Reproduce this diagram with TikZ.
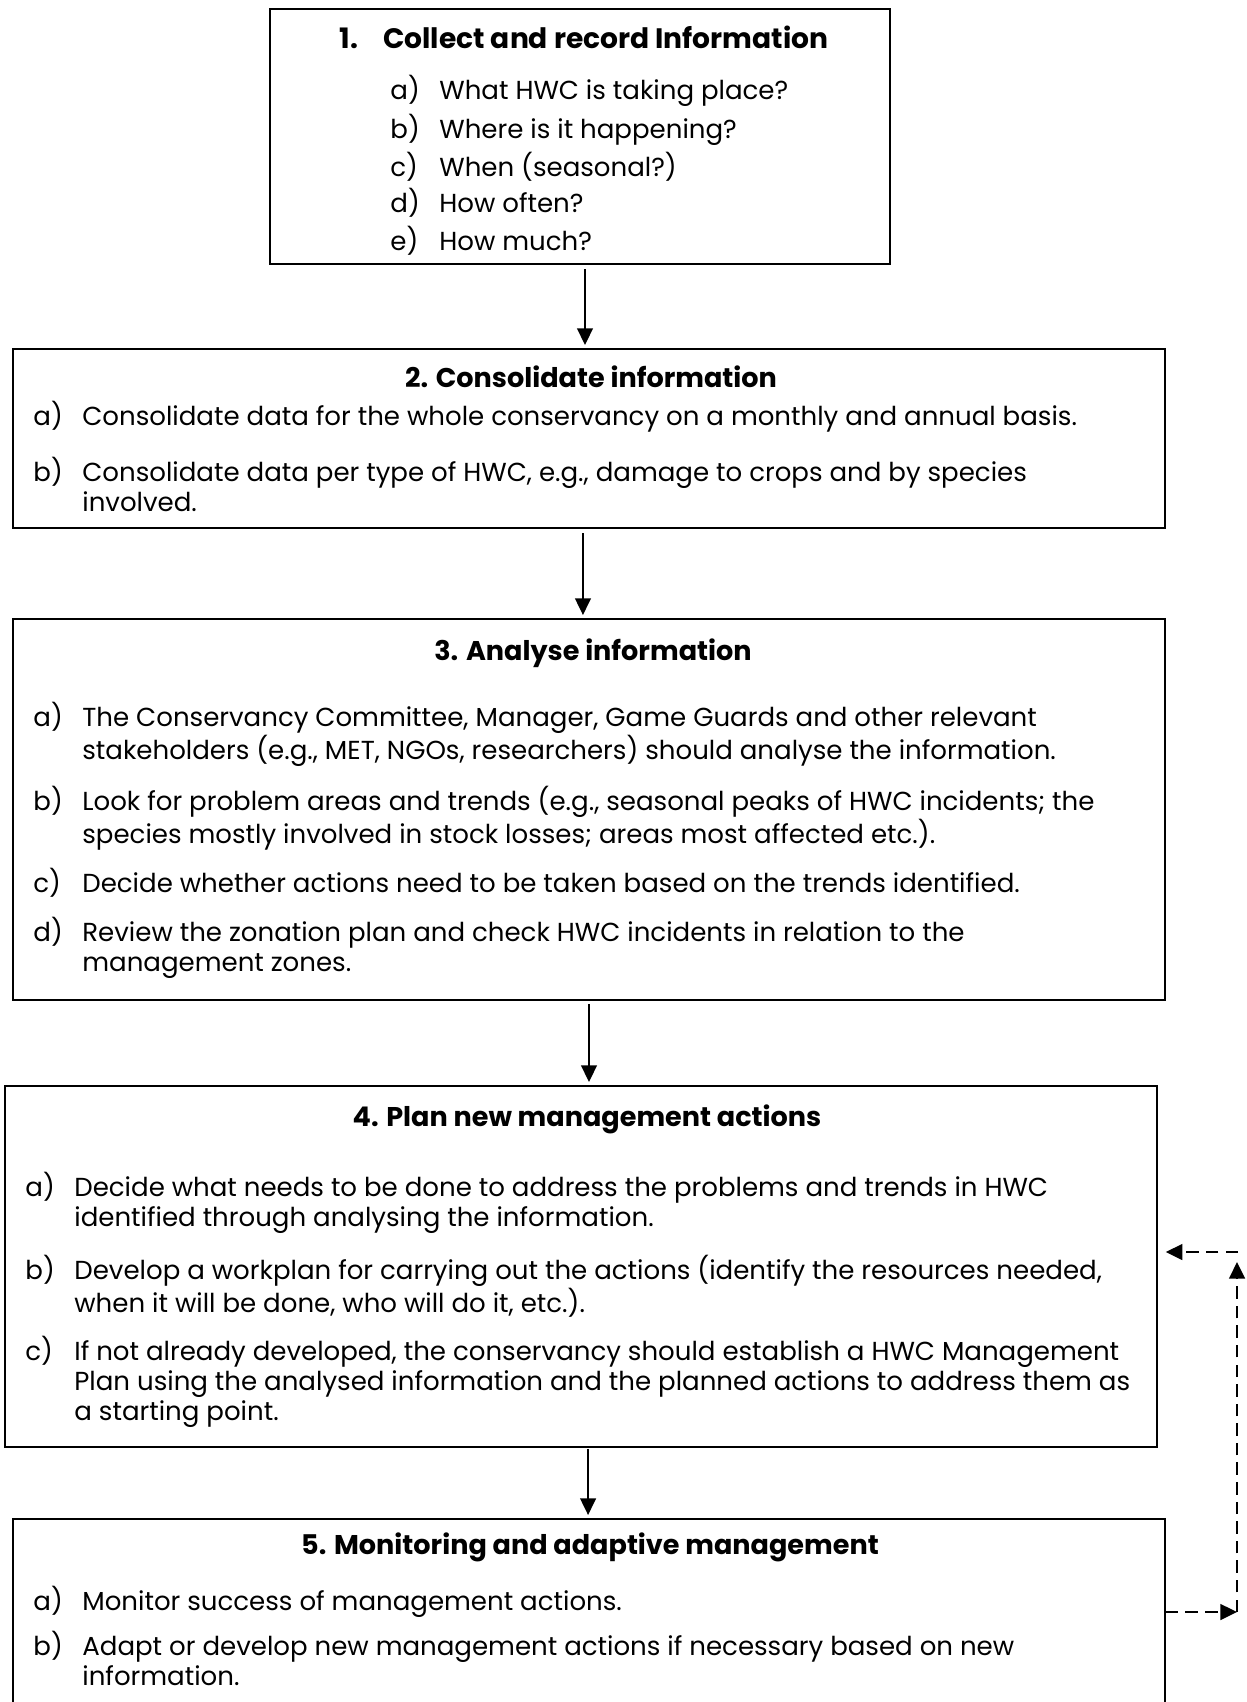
\documentclass[tikz,border=0pt]{standalone}
\usepackage{fontspec}
\setmainfont{Poppins}
\usetikzlibrary{arrows.meta,fit}

\newlength{\lblw}
\setlength{\lblw}{23.5pt}
% one lettered point, continuation lines written as \\ & ...
\newcommand{\hwcitem}[2]{\begin{tabular}[t]{@{}p{\lblw}@{}l@{}}#1 & #2\end{tabular}}

\begin{document}
\begin{tikzpicture}
  [x=0.48pt, y=-0.48pt,
   every node/.style={font=\fontsize{12.5}{14.6}\selectfont},
   stage/.style={draw, line width=0.8pt, inner sep=0pt},
   head/.style={font=\fontsize{13}{15}\selectfont\bfseries, anchor=base, inner sep=0pt},
   point/.style={anchor=base west, inner sep=0pt},
   flow/.style={-{Triangle[length=8pt,width=7.5pt]}, line width=1pt},
   loopback/.style={flow, line width=1.3pt, dash pattern=on 6pt off 3.4pt}]
  \clip (0,0) rectangle (1246,1702);

  % stage boxes
  \node[stage, line width=1pt, fit={(270,9) (890,264)}] (b1) {};
  \node[stage, fit={(13,349) (1165,528)}] (b2) {};
  \node[stage, fit={(13,619) (1165,1000)}] (b3) {};
  \node[stage, fit={(5,1086) (1157,1447)}] (b4) {};
  \node[stage, fit={(13,1519) (1165,1730)}] (b5) {};

  % 1
  \node[head, font=\fontsize{13.5}{15}\selectfont\bfseries] (t1) at (584,49) {1.\hspace{12pt}Collect and record Information};
  \node[point] (p1a) at (390,100) {\hwcitem{a)}{What HWC is taking place?}};
  \node[point] (p1b) at (390,138) {\hwcitem{b)}{Where is it happening?}};
  \node[point] (p1c) at (390,176) {\hwcitem{c)}{When (seasonal?)}};
  \node[point] (p1d) at (390,213) {\hwcitem{d)}{How often?}};
  \node[point] (p1e) at (390,250) {\hwcitem{e)}{How much?}};

  % 2
  \node[head] (t2) at (591,387) {2. Consolidate information};
  \node[point] (p2a) at (33,425) {\hwcitem{a)}{Consolidate data for the whole conservancy on a monthly and annual basis.}};
  \node[point] (p2b) at (33,481) {\hwcitem{b)}{Consolidate data per type of HWC, e.g., damage to crops and by species\\ & involved.}};

  % 3
  \node[head] (t3) at (593,660) {3. Analyse information};
  \node[point] (p3a) at (33,726) {\hwcitem{a)}{The Conservancy Committee, Manager, Game Guards and other relevant\\ & stakeholders (e.g., MET, NGOs, researchers) should analyse the information.}};
  \node[point] (p3b) at (33,810) {\hwcitem{b)}{Look for problem areas and trends (e.g., seasonal peaks of HWC incidents; the\\ & species mostly involved in stock losses; areas most affected etc.).}};
  \node[point] (p3c) at (33,892) {\hwcitem{c)}{Decide whether actions need to be taken based on the trends identified.}};
  \node[point] (p3d) at (33,941) {\hwcitem{d)}{Review the zonation plan and check HWC incidents in relation to the\\ & management zones.}};

  % 4
  \node[head] (t4) at (587,1126) {4. Plan new management actions};
  \node[point] (p4a) at (25,1196) {\hwcitem{a)}{Decide what needs to be done to address the problems and trends in HWC\\ & identified through analysing the information.}};
  \node[point] (p4b) at (25,1279) {\hwcitem{b)}{Develop a workplan for carrying out the actions (identify the resources needed,\\ & when it will be done, who will do it, etc.).}};
  \node[point] (p4c) at (25,1360) {\hwcitem{c)}{If not already developed, the conservancy should establish a HWC Management\\ & Plan using the analysed information and the planned actions to address them as\\ & a starting point.}};

  % 5
  \node[head] (t5) at (590,1554) {5. Monitoring and adaptive management};
  \node[point] (p5a) at (33,1610) {\hwcitem{a)}{Monitor success of management actions.}};
  \node[point] (p5b) at (33,1655) {\hwcitem{b)}{Adapt or develop new management actions if necessary based on new\\ & information.}};

  % arrows between stages
  \draw[flow, shorten <=2pt, shorten >=1.5pt] ([xshift=2.4pt]b1.south) -- ([xshift=2.4pt]b1.south |- b2.north);
  \draw[flow, shorten <=2pt, shorten >=1.5pt] ([xshift=-2.9pt]b2.south) -- ([xshift=-2.9pt]b2.south |- b3.north);
  \draw[flow, shorten <=1.5pt, shorten >=1.5pt] (b3.south) -- (b3.south |- b4.north);
  \draw[flow, shorten <=0.5pt, shorten >=1.5pt] ([xshift=3.4pt]b4.south) -- ([xshift=3.4pt]b4.south |- b5.north);

  % feedback loop
  \coordinate (fb5) at (1237,1612);
  \coordinate (fbtop) at (1237,1262);
  \coordinate (fb4) at (1238,1252);
  \draw[loopback] (b5.east |- fb5) -- (fb5);
  \draw[loopback] (fb5) -- (fbtop);
  \draw[loopback, shorten >=3.8pt] (fb4) -- (b4.east |- fb4);
\end{tikzpicture}
\end{document}
